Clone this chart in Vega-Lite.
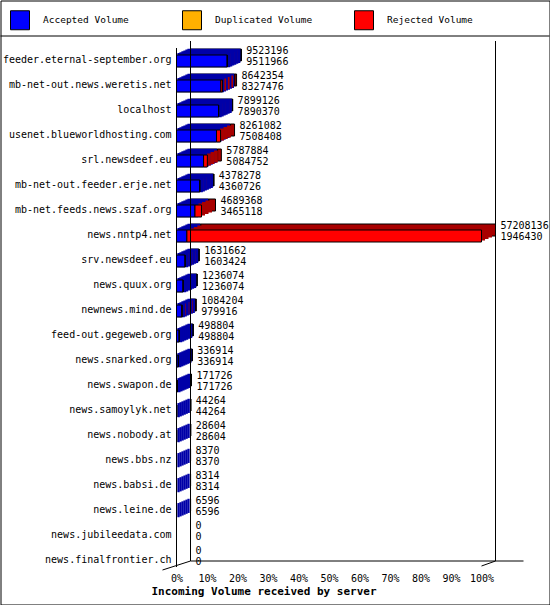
{
  "$schema": "https://vega.github.io/schema/vega-lite/v6.json",
  "autosize": {"type": "none"},
  "padding": {"left": 0.5, "top": 0.5, "right": 0, "bottom": 0},
  "width": 549,
  "height": 604,
  "background": "white",
  "config": {
    "view": {"stroke": "black", "strokeWidth": 1},
    "font": "DejaVu Sans Mono"
  },
  "data": {
    "values": [
      {"host": "feeder.eternal-september.org", "total": 9523196, "accepted": 9511966},
      {"host": "mb-net-out.news.weretis.net", "total": 8642354, "accepted": 8327476},
      {"host": "localhost", "total": 7899126, "accepted": 7890370},
      {"host": "usenet.blueworldhosting.com", "total": 8261082, "accepted": 7508408},
      {"host": "srl.newsdeef.eu", "total": 5787884, "accepted": 5084752},
      {"host": "mb-net-out.feeder.erje.net", "total": 4378278, "accepted": 4360726},
      {"host": "mb-net.feeds.news.szaf.org", "total": 4689368, "accepted": 3465118},
      {"host": "news.nntp4.net", "total": 57208136, "accepted": 1946430},
      {"host": "srv.newsdeef.eu", "total": 1631662, "accepted": 1603424},
      {"host": "news.quux.org", "total": 1236074, "accepted": 1236074},
      {"host": "newnews.mind.de", "total": 1084204, "accepted": 979916},
      {"host": "feed-out.gegeweb.org", "total": 498804, "accepted": 498804},
      {"host": "news.snarked.org", "total": 336914, "accepted": 336914},
      {"host": "news.swapon.de", "total": 171726, "accepted": 171726},
      {"host": "news.samoylyk.net", "total": 44264, "accepted": 44264},
      {"host": "news.nobody.at", "total": 28604, "accepted": 28604},
      {"host": "news.bbs.nz", "total": 8370, "accepted": 8370},
      {"host": "news.babsi.de", "total": 8314, "accepted": 8314},
      {"host": "news.leine.de", "total": 6596, "accepted": 6596},
      {"host": "news.jubileedata.com", "total": 0, "accepted": 0},
      {"host": "news.finalfrontier.ch", "total": 0, "accepted": 0}
    ]
  },
  "encoding": {
    "y": {
      "field": "host",
      "type": "nominal",
      "sort": null,
      "axis": null,
      "scale": {
        "domain": ["", "feeder.eternal-september.org", "mb-net-out.news.weretis.net", "localhost", "usenet.blueworldhosting.com", "srl.newsdeef.eu", "mb-net-out.feeder.erje.net", "mb-net.feeds.news.szaf.org", "news.nntp4.net", "srv.newsdeef.eu", "news.quux.org", "newnews.mind.de", "feed-out.gegeweb.org", "news.snarked.org", "news.swapon.de", "news.samoylyk.net", "news.nobody.at", "news.bbs.nz", "news.babsi.de", "news.leine.de", "news.jubileedata.com", "news.finalfrontier.ch", " "],
        "paddingInner": 0,
        "paddingOuter": 0.58,
        "align": 0.759
      }
    }
  },
  "layer": [
    {
      "mark": {"type": "bar", "size": 12, "color": "#0000a8", "stroke": "black", "strokeWidth": 1, "xOffset": 14, "x2Offset": 14, "yOffset": -5},
      "encoding": {
        "x": {
          "field": "accepted",
          "type": "quantitative",
          "scale": {"domain": [-33011908, 69962737], "nice": false, "zero": false},
          "axis": {
            "values": [0, 5720813.6, 11441627.2, 17162440.8, 22883254.4, 28604068, 34324881.6, 40045695.2, 45766508.8, 51487322.4, 57208136],
            "labelExpr": "round(datum.value / 572081.36) + '%'",
            "offset": -33,
            "domain": false,
            "ticks": false,
            "grid": false,
            "labelPadding": 2,
            "labelFont": "DejaVu Sans Mono",
            "labelFontSize": 10,
            "labelColor": "black",
            "title": "Incoming Volume received by server",
            "titleFont": "DejaVu Sans Mono",
            "titleFontSize": 11,
            "titleFontWeight": "bold",
            "titleColor": "black",
            "titlePadding": 2,
            "titleX": 263,
            "titleAnchor": null
          }
        },
        "x2": {"datum": 0}
      }
    },
    {
      "mark": {"type": "bar", "size": 12, "color": "#0000a8", "stroke": "#0000a8", "xOffset": 12, "x2Offset": 12, "yOffset": -4.14},
      "encoding": {
        "x": {"field": "accepted", "type": "quantitative"}, "x2": {"datum": 0},
        "strokeWidth": {"condition": {"test": "datum.accepted > 0", "value": 2.2}, "value": 0}
      }
    },
    {
      "mark": {"type": "bar", "size": 12, "color": "#0000a8", "stroke": "#0000a8", "xOffset": 10, "x2Offset": 10, "yOffset": -3.29},
      "encoding": {
        "x": {"field": "accepted", "type": "quantitative"}, "x2": {"datum": 0},
        "strokeWidth": {"condition": {"test": "datum.accepted > 0", "value": 2.2}, "value": 0}
      }
    },
    {
      "mark": {"type": "bar", "size": 12, "color": "#0000a8", "stroke": "#0000a8", "xOffset": 8, "x2Offset": 8, "yOffset": -2.43},
      "encoding": {
        "x": {"field": "accepted", "type": "quantitative"}, "x2": {"datum": 0},
        "strokeWidth": {"condition": {"test": "datum.accepted > 0", "value": 2.2}, "value": 0}
      }
    },
    {
      "mark": {"type": "bar", "size": 12, "color": "#0000a8", "stroke": "#0000a8", "xOffset": 6, "x2Offset": 6, "yOffset": -1.57},
      "encoding": {
        "x": {"field": "accepted", "type": "quantitative"}, "x2": {"datum": 0},
        "strokeWidth": {"condition": {"test": "datum.accepted > 0", "value": 2.2}, "value": 0}
      }
    },
    {
      "mark": {"type": "bar", "size": 12, "color": "#0000a8", "stroke": "#0000a8", "xOffset": 4, "x2Offset": 4, "yOffset": -0.71},
      "encoding": {
        "x": {"field": "accepted", "type": "quantitative"}, "x2": {"datum": 0},
        "strokeWidth": {"condition": {"test": "datum.accepted > 0", "value": 2.2}, "value": 0}
      }
    },
    {
      "mark": {"type": "bar", "size": 12, "color": "#0000a8", "stroke": "#0000a8", "xOffset": 2, "x2Offset": 2, "yOffset": 0.14},
      "encoding": {
        "x": {"field": "accepted", "type": "quantitative"}, "x2": {"datum": 0},
        "strokeWidth": {"condition": {"test": "datum.accepted > 0", "value": 2.2}, "value": 0}
      }
    },
    {
      "mark": {"type": "bar", "size": 12, "color": "#a80000", "stroke": "black", "strokeWidth": 1, "xOffset": 14, "x2Offset": 14, "yOffset": -5},
      "encoding": {"x": {"field": "accepted", "type": "quantitative"}, "x2": {"field": "total"}}
    },
    {
      "mark": {"type": "bar", "size": 12, "color": "#a80000", "xOffset": 10.5, "x2Offset": 10.5, "yOffset": -3.5},
      "encoding": {"x": {"field": "accepted", "type": "quantitative"}, "x2": {"field": "total"}}
    },
    {
      "mark": {"type": "bar", "size": 12, "color": "#a80000", "xOffset": 7, "x2Offset": 7, "yOffset": -2},
      "encoding": {"x": {"field": "accepted", "type": "quantitative"}, "x2": {"field": "total"}}
    },
    {
      "mark": {"type": "bar", "size": 12, "color": "#a80000", "xOffset": 3.5, "x2Offset": 3.5, "yOffset": -0.5},
      "encoding": {"x": {"field": "accepted", "type": "quantitative"}, "x2": {"field": "total"}}
    },
    {
      "mark": {"type": "bar", "size": 12, "stroke": "black", "strokeWidth": 1, "opacity": 1, "yOffset": 1},
      "encoding": {
        "x": {"field": "accepted", "type": "quantitative"},
        "x2": {"datum": 0},
        "color": {
          "datum": "Accepted Volume",
          "type": "nominal",
          "scale": {
            "domain": ["Accepted Volume", "Duplicated Volume", "Rejected Volume"],
            "range": ["#0000ff", "#ffb000", "#ff0000"]
          },
          "legend": {
            "title": null,
            "orient": "none",
            "legendX": 9.5,
            "legendY": 9.5,
            "direction": "horizontal",
            "columns": 3,
            "gridAlign": "all",
            "columnPadding": 39,
            "padding": 0,
            "symbolType": "square",
            "symbolSize": 361,
            "symbolStrokeColor": "black",
            "symbolStrokeWidth": 1,
            "symbolOpacity": 1,
            "labelFont": "DejaVu Sans Mono",
            "labelFontSize": 9.5,
            "labelColor": "black",
            "labelOffset": 13
          }
        }
      }
    },
    {
      "mark": {"type": "bar", "size": 12, "stroke": "black", "strokeWidth": 1, "opacity": 1, "yOffset": 1},
      "encoding": {
        "x": {"field": "accepted", "type": "quantitative"},
        "x2": {"field": "total"},
        "color": {"datum": "Rejected Volume", "type": "nominal"}
      }
    },
    {
      "mark": {"type": "text", "align": "left", "baseline": "middle", "xOffset": 19, "yOffset": -9.5, "font": "DejaVu Sans Mono", "fontSize": 10, "color": "black"},
      "encoding": {
        "x": {"field": "total", "type": "quantitative"},
        "text": {"field": "total", "type": "quantitative", "format": "d"}
      }
    },
    {
      "mark": {"type": "text", "align": "left", "baseline": "middle", "xOffset": 19, "yOffset": 1.5, "font": "DejaVu Sans Mono", "fontSize": 10, "color": "black"},
      "encoding": {
        "x": {"field": "total", "type": "quantitative"},
        "text": {"field": "accepted", "type": "quantitative", "format": "d"}
      }
    },
    {
      "mark": {"type": "text", "align": "right", "baseline": "middle", "xOffset": -5, "yOffset": -0.5, "font": "DejaVu Sans Mono", "fontSize": 10, "color": "black"},
      "encoding": {
        "x": {"datum": 0, "type": "quantitative"},
        "text": {"field": "host", "type": "nominal"}
      }
    },
    {
      "data": {"values": [{}]},
      "mark": {"type": "rule", "color": "black", "strokeWidth": 1, "yOffset": -12, "y2Offset": 7},
      "encoding": {
        "x": {"datum": 0, "type": "quantitative"},
        "y": {"datum": "feeder.eternal-september.org", "type": "nominal"},
        "y2": {"datum": "news.finalfrontier.ch"}
      }
    },
    {
      "data": {"values": [{}]},
      "mark": {"type": "rule", "color": "black", "strokeWidth": 1, "xOffset": 14, "yOffset": -19, "y2Offset": 1},
      "encoding": {
        "x": {"datum": 0, "type": "quantitative"},
        "y": {"datum": "feeder.eternal-september.org", "type": "nominal"},
        "y2": {"datum": "news.finalfrontier.ch"}
      }
    },
    {
      "data": {"values": [{}]},
      "mark": {"type": "rule", "color": "black", "strokeWidth": 1, "xOffset": 14, "yOffset": -19, "y2Offset": 1},
      "encoding": {
        "x": {"datum": 57208136, "type": "quantitative"},
        "y": {"datum": "feeder.eternal-september.org", "type": "nominal"},
        "y2": {"datum": "news.finalfrontier.ch"}
      }
    },
    {
      "data": {"values": [{}]},
      "mark": {"type": "rule", "color": "black", "strokeWidth": 1, "xOffset": 14, "x2Offset": 42, "yOffset": 1},
      "encoding": {
        "x": {"datum": 0, "type": "quantitative"},
        "x2": {"datum": 57208136},
        "y": {"datum": "news.finalfrontier.ch", "type": "nominal"}
      }
    },
    {
      "data": {"values": [{}]},
      "mark": {"type": "rule", "color": "black", "strokeWidth": 1, "xOffset": -14, "x2Offset": 14, "yOffset": 10, "y2Offset": 1},
      "encoding": {
        "x": {"datum": 0, "type": "quantitative"},
        "x2": {"datum": 0},
        "y": {"datum": "news.finalfrontier.ch", "type": "nominal"},
        "y2": {"datum": "news.finalfrontier.ch"}
      }
    },
    {
      "data": {"values": [{}]},
      "mark": {"type": "rule", "color": "black", "strokeWidth": 1, "xOffset": 0, "x2Offset": 14, "yOffset": 6, "y2Offset": 1},
      "encoding": {
        "x": {"datum": 57208136, "type": "quantitative"},
        "x2": {"datum": 57208136},
        "y": {"datum": "news.finalfrontier.ch", "type": "nominal"},
        "y2": {"datum": "news.finalfrontier.ch"}
      }
    },
    {
      "data": {"values": [{}]},
      "mark": {"type": "rule", "color": "black", "strokeWidth": 1, "yOffset": -24},
      "encoding": {
        "x": {"value": 0},
        "x2": {"value": "width"},
        "y": {"datum": "feeder.eternal-september.org", "type": "nominal"}
      }
    }
  ]
}
